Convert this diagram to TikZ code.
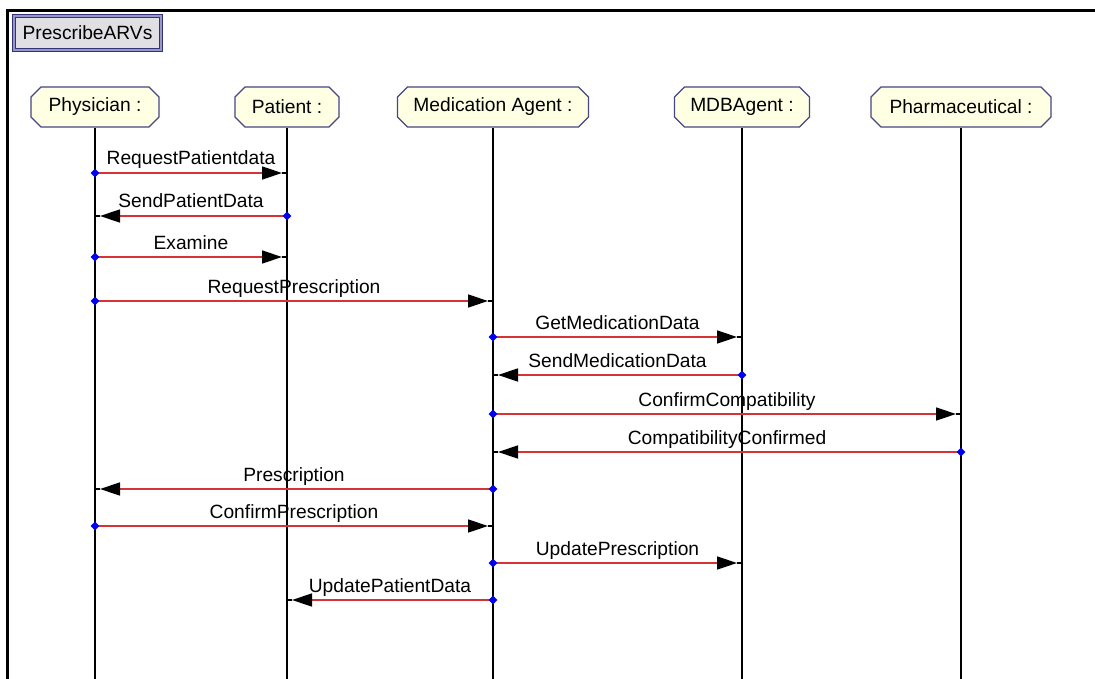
\documentclass[tikz,border=0pt]{standalone}
\usepackage{fontspec}
\setmainfont{Liberation Sans}
\usetikzlibrary{shapes.misc,shapes.geometric,arrows.meta,calc}

\definecolor{headfill}{RGB}{255,255,228}
\definecolor{headdraw}{RGB}{70,70,130}
\definecolor{msgred}{RGB}{214,52,52}
\definecolor{dotblue}{RGB}{0,0,240}
\definecolor{titlefill}{RGB}{224,224,228}
\definecolor{titledraw}{RGB}{50,50,120}
\definecolor{titleinner}{RGB}{150,150,200}

\tikzset{
  lbl/.style={font=\fontsize{19.2}{21}\selectfont, inner sep=0pt},
  head/.style={chamfered rectangle, chamfered rectangle xsep=5pt,
    chamfered rectangle ysep=5pt, draw=headdraw, line width=1.2pt,
    fill=headfill, minimum height=40pt, inner sep=0pt, lbl},
  lifeline/.style={draw=black, line width=1.4pt},
  msg/.style={draw=msgred, line width=1.4pt,
    -{Triangle[length=20pt,width=13pt,color=black]}},
  stub/.style={draw=black, line width=1.4pt},
  srcdot/.style={diamond, fill=dotblue, minimum size=9pt, inner sep=0pt},
  msglabel/.style={lbl, anchor=base, yshift=8pt},
  frameline/.style={draw=black, line width=3pt},
  titlebox/.style={draw=titledraw, double=titleinner, double distance=1.4pt,
    line width=1.1pt, fill=titlefill, minimum width=147pt, minimum height=34pt,
    inner sep=0pt, lbl}
}

\begin{document}
\begin{tikzpicture}[x=1pt, y=-1pt]
  \useasboundingbox[fill=white] (0,0) rectangle (1095,679);

  % outer frame (top and left edges only)
  \coordinate (ftl) at (7.5,11);
  \coordinate (ftr) at (1095,11);
  \coordinate (fbl) at (7.5,679);
  \draw[frameline] (fbl) -- (ftl) -- (ftr);

  % diagram title
  \node[titlebox] (title) at (87.5,33) {PrescribeARVs};

  % object heads
  \node[head, minimum width=128pt] (phys) at (95,107)  {Physician :};
  \node[head, minimum width=104pt] (pat)  at (287,107) {Patient :};
  \node[head, minimum width=191pt] (med)  at (493,107) {Medication Agent :};
  \node[head, minimum width=135pt] (mdb)  at (742,107) {MDBAgent :};
  \node[head, minimum width=180pt] (pha)  at (961,107) {Pharmaceutical :};

  % lifelines
  \foreach \o in {phys,pat,med,mdb,pha} {
    \coordinate (\o-end) at (\o |- 0,679);
    \draw[lifeline] (\o.south) -- (\o-end);
  }

  % messages: sender / receiver / height / name
  \foreach \f/\t/\y/\l in {
      phys/pat/173/RequestPatientdata,
      pat/phys/216/SendPatientData,
      phys/pat/257/Examine,
      phys/med/301/RequestPrescription,
      med/mdb/337/GetMedicationData,
      mdb/med/375/SendMedicationData,
      med/pha/414/ConfirmCompatibility,
      pha/med/452/CompatibilityConfirmed,
      med/phys/489/Prescription,
      phys/med/526/ConfirmPrescription,
      med/mdb/563/UpdatePrescription,
      med/pat/600/UpdatePatientData} {
    \coordinate (ms) at (\f |- 0,\y);
    \coordinate (me) at (\t |- 0,\y);
    \coordinate (mt) at ($(me)!5pt!(ms)$);
    \draw[msg] (ms) -- (mt);
    \draw[stub] (mt) -- (me);
    \path (ms) -- (me) node[msglabel, midway] {\l};
    \node[srcdot] at (ms) {};
  }
\end{tikzpicture}
\end{document}
